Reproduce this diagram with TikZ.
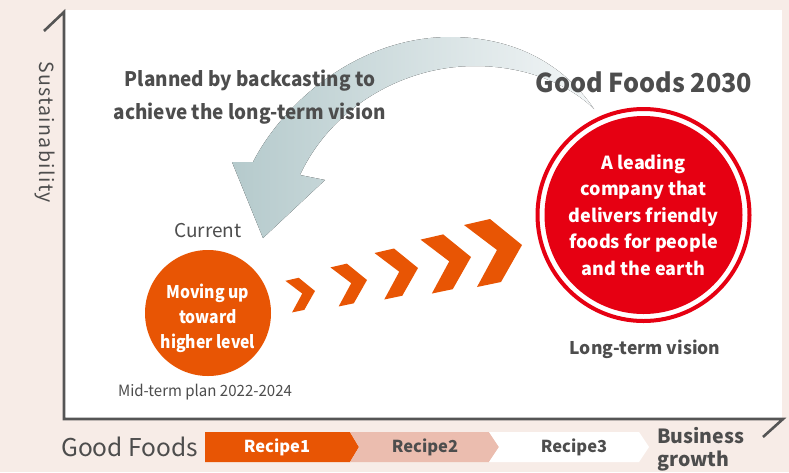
\documentclass[tikz,border=0pt]{standalone}
\usepackage{fontspec}
\setmainfont{Noto Sans CJK JP}
\definecolor{bgc}{HTML}{F7ECE7}
\definecolor{axisc}{HTML}{555555}
\definecolor{txt}{HTML}{4D4D4D}
\definecolor{orng}{HTML}{E85504}
\definecolor{redc}{HTML}{E60012}
\definecolor{pinkc}{HTML}{EBBDAF}
\definecolor{arrL}{HTML}{B5CACC}
\definecolor{arrR}{HTML}{F3F6F7}
\begin{document}
\begin{tikzpicture}[x=1pt,y=-1pt,
  lbl/.style={text=txt, inner sep=0pt}]
% background
\fill[bgc] (0,0) rectangle (789,472);
\useasboundingbox (0,0) rectangle (789,472);
% panel
\fill[white] (64,10) rectangle (782,419);
% axes
\coordinate (ytop) at (64,12);
\coordinate (origin) at (64,419);
\coordinate (xend) at (783,419);
\draw[axisc, line width=2.6pt, line join=miter] (44,31) -- (ytop) -- (origin) -- (xend) -- (763,437);
% curved arrow
\fill[left color=arrL, right color=arrR]
  (594,109) .. controls (562,62) and (512,37) .. (450,37)
  .. controls (360,37) and (285,100) .. (253,162)
  -- (232,162) -- (263,238) -- (325,180) -- (300,175)
  .. controls (330,110) and (400,66) .. (475,66)
  .. controls (530,66) and (572,87) .. (594,109) -- cycle;
% texts top
\node[lbl, align=center, font=\bfseries\fontsize{20}{33}\selectfont\addfontfeature{FakeStretch=0.945}] (plan) at (250,97) {Planned by backcasting to\\achieve the long-term vision};
\node[lbl, font=\bfseries\fontsize{26}{30}\selectfont\addfontfeature{FakeStretch=0.97}] (gf2030) at (644,82) {Good Foods 2030};
\node[lbl, rotate=-90, font=\fontsize{19.5}{22}\selectfont\addfontfeature{LetterSpace=7}] (sust) at (45,132) {Sustainability};
% vision circle
\node[circle, fill=redc, minimum size=198pt, inner sep=0pt] (vision) at (643.5,215) {};
\node[circle, draw=redc, line width=4pt, minimum size=212pt, inner sep=0pt] (ring) at (vision) {};
\node[text=white, align=center, inner sep=0pt, font=\bfseries\fontsize{18}{26.5}\selectfont] (visiontxt) at (vision) {A leading\\company that\\delivers friendly\\foods for people\\and the earth};
\node[lbl, font=\bfseries\fontsize{17.5}{20}\selectfont] (ltv) at (645,349) {Long-term vision};
% current circle
\node[lbl, font=\fontsize{19}{22}\selectfont] (current) at (208,231) {Current};
\node[circle, fill=orng, minimum size=126pt, inner sep=0pt] (cur) at (208,313) {};
\node[text=white, align=center, inner sep=0pt, font=\bfseries\fontsize{17.5}{25}\selectfont\addfontfeature{FakeStretch=0.9}] (curtxt) at (208,318) {Moving up\\toward\\higher level};
\node[lbl, font=\fontsize{15.5}{18}\selectfont\addfontfeature{FakeStretch=0.97}] (mtp) at (205,392) {Mid-term plan 2022-2024};
% chevrons
\foreach \tx/\ty/\s in {315/291/0.51, 367/280/0.63, 418/268/0.75, 471/257/0.87, 522/245/1}{
  \fill[orng, shift={(\tx,\ty)}, scale=\s]
    (-58,-20) -- (-32,-26) -- (0,0) -- (-21,37) -- (-45,42) -- (-25,5) -- cycle;
}
% bottom bar
\node[lbl, anchor=west, font=\fontsize{24.5}{28}\selectfont] (gf) at (61,447) {Good Foods};
\fill[orng] (205,432) -- (350,432) -- (359,447) -- (350,462) -- (205,462) -- cycle;
\fill[pinkc] (350,432) -- (489,432) -- (499,447) -- (489,462) -- (350,462) -- (359,447) -- cycle;
\fill[white] (489,432) -- (639,432) -- (649,447) -- (639,462) -- (489,462) -- (499,447) -- cycle;
\node[text=white, inner sep=0pt, font=\bfseries\fontsize{16.5}{18}\selectfont] (r1) at (277,447) {Recipe1};
\node[lbl, font=\bfseries\fontsize{16.5}{18}\selectfont] (r2) at (425,447) {Recipe2};
\node[lbl, font=\bfseries\fontsize{16.5}{18}\selectfont] (r3) at (574,447) {Recipe3};
\node[lbl, anchor=west, align=left, font=\bfseries\fontsize{19.5}{23}\selectfont] (bg) at (657,449) {Business\\growth};
\end{tikzpicture}
\end{document}
